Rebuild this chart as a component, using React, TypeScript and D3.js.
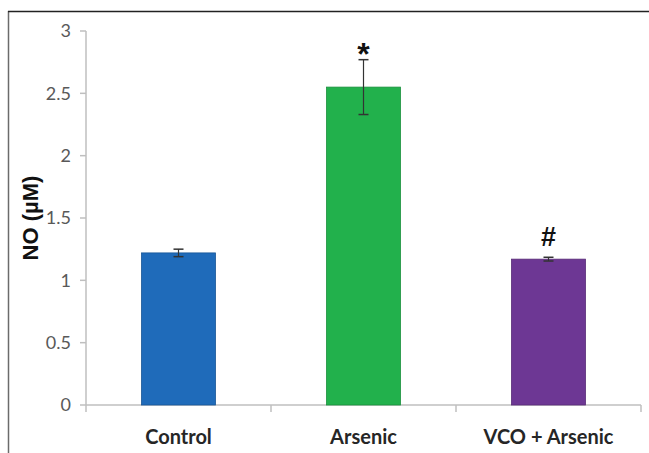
import React, { useRef, useEffect } from 'react';
import * as d3 from 'd3';

const categories: string[] = ['Control', 'Arsenic', 'VCO + Arsenic'];
const means: number[] = [1.22, 2.55, 1.17];
const errors: number[] = [0.03, 0.22, 0.015];
const marks: string[] = ['', '*', '#'];
const colors: string[] = ['#1f6bba', '#22b14c', '#6d3794'];
const yTicks: number[] = [0, 0.5, 1, 1.5, 2, 2.5, 3];

function App() {
    const ref = useRef(null);
    const width = 649;
    const height = 453;

    useEffect(() => {
        if (!ref.current) return;
        const svg: any = d3.select(ref.current);
        svg.selectAll('*').remove();

        const left = 86, right = 641, top = 31, bottom = 405;

        const x = d3.scaleBand()
            .domain(categories)
            .range([left, right])
            .paddingInner(0.6)
            .paddingOuter(0.3);
        const xTick = d3.scaleLinear().domain([0, 3]).range([left, right]);
        const y = d3.scaleLinear().domain([0, 3]).range([bottom, top]);

        // frame
        svg.append('line').attr('x1', 8.5).attr('x2', 8.5).attr('y1', 11).attr('y2', height)
            .attr('stroke', '#6b6b6b').attr('stroke-width', 1.5);
        svg.append('line').attr('x1', 8).attr('x2', width).attr('y1', 11.5).attr('y2', 11.5)
            .attr('stroke', '#222').attr('stroke-width', 1.5);

        const axisColor = '#bfbfbf';

        // y axis
        svg.append('line').attr('x1', left).attr('x2', left).attr('y1', top).attr('y2', bottom)
            .attr('stroke', axisColor).attr('stroke-width', 1.5);
        const yt = svg.append('g');
        yTicks.forEach((t) => {
            yt.append('line').attr('x1', left - 6).attr('x2', left).attr('y1', y(t)).attr('y2', y(t))
                .attr('stroke', axisColor).attr('stroke-width', 1.5);
            yt.append('text').attr('x', left - 15).attr('y', y(t)).attr('dy', '0.35em')
                .attr('text-anchor', 'end').attr('font-family', 'Lato, sans-serif').attr('font-size', 18)
                .attr('fill', '#595959').text(d3.format('')(t));
        });

        // x axis
        svg.append('line').attr('x1', left).attr('x2', right).attr('y1', bottom).attr('y2', bottom)
            .attr('stroke', axisColor).attr('stroke-width', 1.5);
        [0, 1, 2, 3].forEach((i) => {
            svg.append('line').attr('x1', xTick(i)).attr('x2', xTick(i)).attr('y1', bottom).attr('y2', bottom + 7)
                .attr('stroke', axisColor).attr('stroke-width', 1.5);
        });

        // bars
        const g = svg.append('g');
        categories.forEach((c, i) => {
            const bx = x(c) as number;
            const bw = x.bandwidth();
            const cx = bx + bw / 2;
            g.append('rect').attr('x', bx).attr('y', y(means[i])).attr('width', bw)
                .attr('height', y(0) - y(means[i])).attr('fill', colors[i])
                .attr('stroke', d3.color(colors[i])!.darker(0.6).toString()).attr('stroke-width', 0.8);
            const hi = y(means[i] + errors[i]);
            const lo = y(means[i] - errors[i]);
            g.append('line').attr('x1', cx).attr('x2', cx).attr('y1', hi).attr('y2', lo)
                .attr('stroke', '#333').attr('stroke-width', 1.2);
            [hi, lo].forEach((v) => {
                g.append('line').attr('x1', cx - 5).attr('x2', cx + 5).attr('y1', v).attr('y2', v)
                    .attr('stroke', '#333').attr('stroke-width', 1.5);
            });
            if (marks[i] === '*') {
                g.append('text').attr('x', cx).attr('y', hi + 5)
                    .attr('text-anchor', 'middle').attr('font-family', 'Liberation Sans, sans-serif')
                    .attr('font-weight', 'bold').attr('font-size', 32)
                    .attr('fill', '#111').text(marks[i]);
            } else if (marks[i]) {
                g.append('text').attr('x', cx).attr('y', hi - 11)
                    .attr('text-anchor', 'middle').attr('font-family', 'Liberation Sans, sans-serif')
                    .attr('font-weight', 'bold').attr('font-size', 27)
                    .attr('fill', '#111').text(marks[i]);
            }
            g.append('text').attr('x', cx).attr('y', 437).attr('dy', '0.35em')
                .attr('text-anchor', 'middle').attr('font-family', 'Lato, sans-serif')
                .attr('font-weight', 'bold').attr('font-size', 20)
                .attr('fill', '#262626').text(c);
        });

        // y title
        svg.append('text')
            .attr('transform', `translate(38,218) rotate(-90)`)
            .attr('text-anchor', 'middle').attr('font-family', 'Liberation Sans, sans-serif')
            .attr('font-weight', 'bold').attr('font-size', 22).attr('fill', '#111')
            .text('NO (µM)');
    }, []);

    return (
        <div style={{ position: 'absolute', left: 0, top: 0 }}>
            <svg width={width} height={height} ref={ref} style={{ display: 'block', background: '#fff' }} />
        </div>
    );
}

export default App;
